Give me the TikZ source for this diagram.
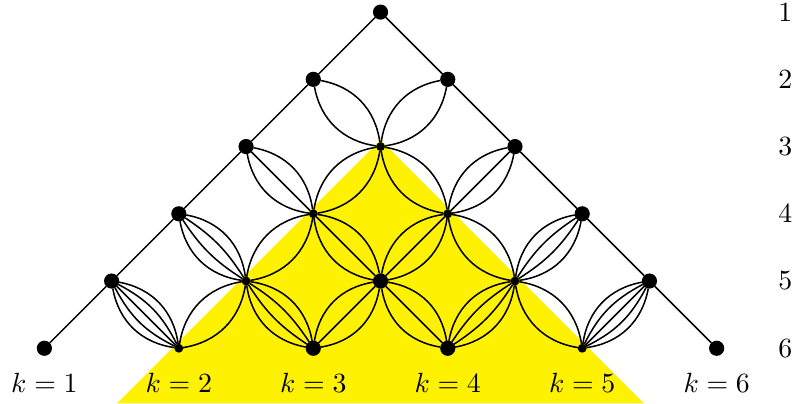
\documentclass[tikz,border=0pt]{standalone}
\definecolor{triyellow}{RGB}{255,242,0}

\newcommand*{\xmin}{-5.66}
\newcommand*{\xmax}{6.15}
\newcommand*{\ymin}{-5.82}
\newcommand*{\ymax}{0.18}
\newcommand*{\bendmax}{36}

% m parallel edges between two nodes
\newcommand*{\multiedge}[3]{%
	\ifnum#3=1
		\draw (#1) -- (#2);
	\else
		\foreach \i in {1,...,#3} {
			\pgfmathsetmacro{\bendang}{\bendmax*(2*(\i-1)/(#3-1)-1)}
			\draw (#1) to[bend left=\bendang] (#2);
		}
	\fi}

\begin{document}
\begin{tikzpicture}
[
	closedpt/.style={circle,draw,fill,inner sep=0pt,minimum size=4.9pt},
	smallpt/.style={circle,draw,fill,inner sep=0pt,minimum size=2.6pt},
	x=0.85cm, y=0.85cm, line width=0.55pt
]
	\useasboundingbox (\xmin,\ymin) rectangle (\xmax,\ymax);

	% shaded region
	\fill[triyellow] (0,-1.9) -- (-3.92,\ymin) -- (3.92,\ymin) -- cycle;

	% vertices, row n, position k
	\foreach \n in {1,...,6}
		\foreach \k in {1,...,\n} {
			\pgfmathtruncatemacro{\onedge}{(\n>2) && ((\k==2) || (\k==\n-1))}
			\ifnum\onedge=1
				\node[smallpt] (v\n\k) at ({2*\k-\n-1},{1-\n}) {};
			\else
				\node[closedpt] (v\n\k) at ({2*\k-\n-1},{1-\n}) {};
			\fi
		}

	% edges: k to the left, n-k+1 to the right
	\foreach \n in {1,...,5}
		\foreach \k in {1,...,\n} {
			\pgfmathtruncatemacro{\m}{\n+1}
			\pgfmathtruncatemacro{\r}{\k+1}
			\pgfmathtruncatemacro{\dr}{\n-\k+1}
			\multiedge{v\n\k}{v\m\k}{\k}
			\multiedge{v\n\k}{v\m\r}{\dr}
		}

	% row numbers
	\foreach \n in {1,...,6}
		\node (row\n) at (6.02,{1-\n}) {$\n$};

	% column labels
	\foreach \k in {1,...,6}
		\node (col\k) at ({2*\k-7},-5.52) {$k=\k$};

\end{tikzpicture}
\end{document}
